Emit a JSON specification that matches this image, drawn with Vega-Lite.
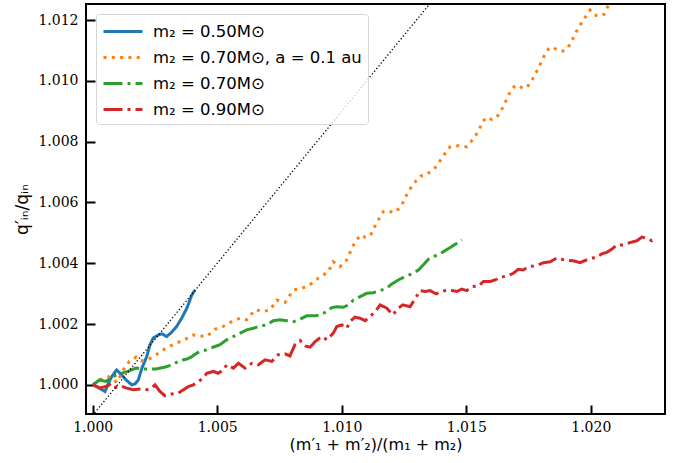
{
 "$schema": "https://vega.github.io/schema/vega-lite/v6.json",
 "width": 579, "height": 410,
 "autosize": {"type": "none"},
 "padding": {"left": 86, "top": 4, "right": 20, "bottom": 49},
 "background": "white",
 "config": {
  "view": {"stroke": "black", "strokeWidth": 2},
  "axis": {"domain": false, "grid": false, "tickColor": "black", "tickWidth": 2, "tickSize": -9, "labelFont": "DejaVu Serif", "labelFontSize": 14, "labelColor": "black", "titleFont": "DejaVu Sans", "titleFontSize": 16, "titleFontWeight": "normal", "titleColor": "black"}
 },
 "datasets": {
  "curves": [
   {"s":"A","x":1.00002,"y":1.0},{"s":"A","x":1.00025,"y":0.9999},{"s":"A","x":1.00049,"y":0.99978},{"s":"A","x":1.00073,"y":1.00023},{"s":"A","x":1.00096,"y":1.00049},{"s":"A","x":1.00116,"y":1.00033},{"s":"A","x":1.00138,"y":1.00013},{"s":"A","x":1.00157,"y":1.0},{"s":"A","x":1.0017,"y":1.00003},{"s":"A","x":1.00183,"y":1.00016},{"s":"A","x":1.00198,"y":1.00056},{"s":"A","x":1.00217,"y":1.00093},{"s":"A","x":1.0023,"y":1.00132},{"s":"A","x":1.00243,"y":1.00154},{"s":"A","x":1.00263,"y":1.00164},{"s":"A","x":1.00278,"y":1.00168},{"s":"A","x":1.00297,"y":1.00159},{"s":"A","x":1.00314,"y":1.00171},{"s":"A","x":1.00337,"y":1.00192},{"s":"A","x":1.00357,"y":1.00219},{"s":"A","x":1.00378,"y":1.00252},{"s":"A","x":1.00398,"y":1.00296},{"s":"A","x":1.00411,"y":1.00312},
   {"s":"B","x":1.00001,"y":1.0},{"s":"B","x":1.00027,"y":1.00016},{"s":"B","x":1.00064,"y":1.00027},{"s":"B","x":1.00098,"y":1.00008},{"s":"B","x":1.00118,"y":1.00043},{"s":"B","x":1.00147,"y":1.00077},{"s":"B","x":1.00174,"y":1.00091},{"s":"B","x":1.00194,"y":1.00079},{"s":"B","x":1.00221,"y":1.00082},{"s":"B","x":1.00254,"y":1.00099},{"s":"B","x":1.00294,"y":1.00121},{"s":"B","x":1.00335,"y":1.00137},{"s":"B","x":1.00368,"y":1.00148},{"s":"B","x":1.00402,"y":1.00164},{"s":"B","x":1.00428,"y":1.00161},{"s":"B","x":1.00458,"y":1.00159},{"s":"B","x":1.00491,"y":1.00183},{"s":"B","x":1.00524,"y":1.00192},{"s":"B","x":1.00565,"y":1.00211},{"s":"B","x":1.00592,"y":1.00219},{"s":"B","x":1.00618,"y":1.00214},{"s":"B","x":1.00652,"y":1.00247},{"s":"B","x":1.00685,"y":1.00241},{"s":"B","x":1.00712,"y":1.00247},{"s":"B","x":1.00739,"y":1.00279},{"s":"B","x":1.00772,"y":1.00271},{"s":"B","x":1.00806,"y":1.00312},{"s":"B","x":1.00839,"y":1.00318},{"s":"B","x":1.00859,"y":1.00323},{"s":"B","x":1.0088,"y":1.00334},{"s":"B","x":1.00906,"y":1.00351},{"s":"B","x":1.00946,"y":1.00372},{"s":"B","x":1.00966,"y":1.00405},{"s":"B","x":1.00993,"y":1.00389},{"s":"B","x":1.0102,"y":1.00411},{"s":"B","x":1.01047,"y":1.0046},{"s":"B","x":1.0106,"y":1.00477},{"s":"B","x":1.01076,"y":1.00493},{"s":"B","x":1.01094,"y":1.00486},{"s":"B","x":1.01114,"y":1.0049},{"s":"B","x":1.01127,"y":1.00512},{"s":"B","x":1.01141,"y":1.00534},{"s":"B","x":1.01157,"y":1.00557},{"s":"B","x":1.01167,"y":1.0057},{"s":"B","x":1.01187,"y":1.00573},{"s":"B","x":1.01207,"y":1.00566},{"s":"B","x":1.01227,"y":1.00578},{"s":"B","x":1.01241,"y":1.00592},{"s":"B","x":1.01254,"y":1.00614},{"s":"B","x":1.0127,"y":1.00639},{"s":"B","x":1.01288,"y":1.0066},{"s":"B","x":1.01301,"y":1.00674},{"s":"B","x":1.01317,"y":1.00687},{"s":"B","x":1.01335,"y":1.00689},{"s":"B","x":1.01352,"y":1.00699},{"s":"B","x":1.01371,"y":1.0071},{"s":"B","x":1.01388,"y":1.00729},{"s":"B","x":1.01406,"y":1.00751},{"s":"B","x":1.01422,"y":1.0077},{"s":"B","x":1.01435,"y":1.00783},{"s":"B","x":1.01459,"y":1.00787},{"s":"B","x":1.01482,"y":1.00786},{"s":"B","x":1.01502,"y":1.00783},{"s":"B","x":1.01519,"y":1.008},{"s":"B","x":1.01538,"y":1.00821},{"s":"B","x":1.01553,"y":1.00841},{"s":"B","x":1.01565,"y":1.00866},{"s":"B","x":1.01582,"y":1.0088},{"s":"B","x":1.01602,"y":1.00873},{"s":"B","x":1.01618,"y":1.00877},{"s":"B","x":1.01636,"y":1.00895},{"s":"B","x":1.01649,"y":1.00917},{"s":"B","x":1.01663,"y":1.0094},{"s":"B","x":1.01676,"y":1.00964},{"s":"B","x":1.01692,"y":1.00981},{"s":"B","x":1.01709,"y":1.00986},{"s":"B","x":1.01727,"y":1.00975},{"s":"B","x":1.01744,"y":1.0098},{"s":"B","x":1.01759,"y":1.00995},{"s":"B","x":1.01773,"y":1.01017},{"s":"B","x":1.01788,"y":1.01039},{"s":"B","x":1.01802,"y":1.01063},{"s":"B","x":1.01815,"y":1.01087},{"s":"B","x":1.0183,"y":1.01105},{"s":"B","x":1.01846,"y":1.01112},{"s":"B","x":1.01866,"y":1.01101},{"s":"B","x":1.01886,"y":1.01098},{"s":"B","x":1.01906,"y":1.01106},{"s":"B","x":1.01921,"y":1.01128},{"s":"B","x":1.01936,"y":1.01151},{"s":"B","x":1.01949,"y":1.01174},{"s":"B","x":1.01966,"y":1.01194},{"s":"B","x":1.01982,"y":1.01215},{"s":"B","x":1.01997,"y":1.01233},{"s":"B","x":1.02013,"y":1.01217},{"s":"B","x":1.02033,"y":1.01213},{"s":"B","x":1.02055,"y":1.0122},{"s":"B","x":1.02068,"y":1.01244},{"s":"B","x":1.02085,"y":1.01266},
   {"s":"C","x":1.00001,"y":1.0},{"s":"C","x":1.00027,"y":1.00016},{"s":"C","x":1.00053,"y":1.00011},{"s":"C","x":1.0008,"y":1.00027},{"s":"C","x":1.00107,"y":1.00036},{"s":"C","x":1.00141,"y":1.00044},{"s":"C","x":1.00174,"y":1.00055},{"s":"C","x":1.00201,"y":1.00052},{"s":"C","x":1.00227,"y":1.00052},{"s":"C","x":1.00254,"y":1.00052},{"s":"C","x":1.00288,"y":1.00058},{"s":"C","x":1.00321,"y":1.00066},{"s":"C","x":1.00348,"y":1.0008},{"s":"C","x":1.00375,"y":1.00084},{"s":"C","x":1.00395,"y":1.00091},{"s":"C","x":1.00408,"y":1.00099},{"s":"C","x":1.00428,"y":1.00109},{"s":"C","x":1.00448,"y":1.00113},{"s":"C","x":1.00491,"y":1.00126},{"s":"C","x":1.00511,"y":1.00132},{"s":"C","x":1.00538,"y":1.00148},{"s":"C","x":1.00565,"y":1.00159},{"s":"C","x":1.00592,"y":1.0017},{"s":"C","x":1.00618,"y":1.00181},{"s":"C","x":1.00645,"y":1.00186},{"s":"C","x":1.00672,"y":1.00194},{"s":"C","x":1.00699,"y":1.00197},{"s":"C","x":1.00725,"y":1.00211},{"s":"C","x":1.00752,"y":1.00214},{"s":"C","x":1.00779,"y":1.00211},{"s":"C","x":1.00806,"y":1.00208},{"s":"C","x":1.00833,"y":1.00216},{"s":"C","x":1.00859,"y":1.00227},{"s":"C","x":1.00893,"y":1.00227},{"s":"C","x":1.00913,"y":1.0023},{"s":"C","x":1.0094,"y":1.00241},{"s":"C","x":1.0096,"y":1.00254},{"s":"C","x":1.0098,"y":1.00257},{"s":"C","x":1.01006,"y":1.00255},{"s":"C","x":1.01027,"y":1.00263},{"s":"C","x":1.01047,"y":1.00279},{"s":"C","x":1.01074,"y":1.0029},{"s":"C","x":1.011,"y":1.00301},{"s":"C","x":1.01127,"y":1.00303},{"s":"C","x":1.01154,"y":1.0031},{"s":"C","x":1.01181,"y":1.00318},{"s":"C","x":1.01201,"y":1.00332},{"s":"C","x":1.01227,"y":1.00345},{"s":"C","x":1.01254,"y":1.00356},{"s":"C","x":1.01281,"y":1.00365},{"s":"C","x":1.01308,"y":1.00378},{"s":"C","x":1.01328,"y":1.00395},{"s":"C","x":1.01348,"y":1.00413},{"s":"C","x":1.01375,"y":1.00424},{"s":"C","x":1.01402,"y":1.00435},{"s":"C","x":1.01424,"y":1.00446},{"s":"C","x":1.01442,"y":1.00455},{"s":"C","x":1.01459,"y":1.00464},{"s":"C","x":1.01482,"y":1.00477},
   {"s":"D","x":1.00002,"y":1.0},{"s":"D","x":1.00029,"y":0.99989},{"s":"D","x":1.00049,"y":0.99994},{"s":"D","x":1.00069,"y":1.0},{"s":"D","x":1.00083,"y":0.99989},{"s":"D","x":1.0011,"y":0.99997},{"s":"D","x":1.00137,"y":0.99989},{"s":"D","x":1.00163,"y":0.99984},{"s":"D","x":1.0019,"y":0.99986},{"s":"D","x":1.00217,"y":0.99984},{"s":"D","x":1.00237,"y":0.99989},{"s":"D","x":1.0025,"y":1.0},{"s":"D","x":1.0027,"y":0.99978},{"s":"D","x":1.0029,"y":0.99964},{"s":"D","x":1.00317,"y":0.9997},{"s":"D","x":1.00344,"y":0.99973},{"s":"D","x":1.00364,"y":0.99984},{"s":"D","x":1.00384,"y":0.99994},{"s":"D","x":1.00404,"y":1.0},{"s":"D","x":1.00424,"y":1.00011},{"s":"D","x":1.00444,"y":1.00022},{"s":"D","x":1.00458,"y":1.00038},{"s":"D","x":1.00484,"y":1.00044},{"s":"D","x":1.00504,"y":1.00038},{"s":"D","x":1.00525,"y":1.00049},{"s":"D","x":1.00538,"y":1.00066},{"s":"D","x":1.00565,"y":1.00055},{"s":"D","x":1.00585,"y":1.00071},{"s":"D","x":1.00612,"y":1.00055},{"s":"D","x":1.00639,"y":1.00071},{"s":"D","x":1.00665,"y":1.00066},{"s":"D","x":1.00692,"y":1.00082},{"s":"D","x":1.00719,"y":1.00077},{"s":"D","x":1.00745,"y":1.00099},{"s":"D","x":1.00772,"y":1.00102},{"s":"D","x":1.00792,"y":1.00095},{"s":"D","x":1.00812,"y":1.00132},{"s":"D","x":1.00833,"y":1.00146},{"s":"D","x":1.00853,"y":1.00128},{"s":"D","x":1.00873,"y":1.00124},{"s":"D","x":1.00893,"y":1.00142},{"s":"D","x":1.0092,"y":1.00159},{"s":"D","x":1.0094,"y":1.00148},{"s":"D","x":1.00966,"y":1.0017},{"s":"D","x":1.0098,"y":1.00192},{"s":"D","x":1.01,"y":1.00197},{"s":"D","x":1.0102,"y":1.00186},{"s":"D","x":1.01033,"y":1.00208},{"s":"D","x":1.01053,"y":1.00223},{"s":"D","x":1.01073,"y":1.00219},{"s":"D","x":1.01094,"y":1.00211},{"s":"D","x":1.01114,"y":1.00225},{"s":"D","x":1.01134,"y":1.00241},{"s":"D","x":1.01154,"y":1.00263},{"s":"D","x":1.01181,"y":1.00252},{"s":"D","x":1.01205,"y":1.0023},{"s":"D","x":1.01227,"y":1.00252},{"s":"D","x":1.01245,"y":1.00263},{"s":"D","x":1.01274,"y":1.00257},{"s":"D","x":1.01294,"y":1.00282},{"s":"D","x":1.01314,"y":1.0031},{"s":"D","x":1.01335,"y":1.00307},{"s":"D","x":1.01355,"y":1.0031},{"s":"D","x":1.01379,"y":1.00299},{"s":"D","x":1.01402,"y":1.00307},{"s":"D","x":1.01422,"y":1.00312},{"s":"D","x":1.01442,"y":1.0031},{"s":"D","x":1.01462,"y":1.00307},{"s":"D","x":1.01482,"y":1.00315},{"s":"D","x":1.01502,"y":1.0031},{"s":"D","x":1.01522,"y":1.00323},{"s":"D","x":1.01549,"y":1.00325},{"s":"D","x":1.01569,"y":1.0034},{"s":"D","x":1.01596,"y":1.0034},{"s":"D","x":1.01616,"y":1.00345},{"s":"D","x":1.01636,"y":1.00354},{"s":"D","x":1.01663,"y":1.00358},{"s":"D","x":1.01689,"y":1.00367},{"s":"D","x":1.01709,"y":1.0038},{"s":"D","x":1.01729,"y":1.00378},{"s":"D","x":1.01749,"y":1.00389},{"s":"D","x":1.01769,"y":1.00391},{"s":"D","x":1.0179,"y":1.00395},{"s":"D","x":1.0181,"y":1.00402},{"s":"D","x":1.01837,"y":1.00405},{"s":"D","x":1.01863,"y":1.00417},{"s":"D","x":1.01883,"y":1.00413},{"s":"D","x":1.0191,"y":1.00409},{"s":"D","x":1.0193,"y":1.00408},{"s":"D","x":1.01957,"y":1.00402},{"s":"D","x":1.01977,"y":1.00409},{"s":"D","x":1.02004,"y":1.00417},{"s":"D","x":1.02024,"y":1.00419},{"s":"D","x":1.02044,"y":1.00431},{"s":"D","x":1.02064,"y":1.00436},{"s":"D","x":1.02084,"y":1.00446},{"s":"D","x":1.02104,"y":1.0046},{"s":"D","x":1.02131,"y":1.0046},{"s":"D","x":1.02157,"y":1.00468},{"s":"D","x":1.02185,"y":1.00474},{"s":"D","x":1.02205,"y":1.00486},{"s":"D","x":1.02225,"y":1.00482},{"s":"D","x":1.02245,"y":1.00474},{"s":"D","x":1.02265,"y":1.00482}
  ],
  "ref": [{"x": 0.9999, "y": 0.9989}, {"x": 1.0137, "y": 1.0127}]
 },
 "layer": [
  {
   "data": {"name": "curves"},
   "transform": [{"lookup": "s", "from": {"data": {"values": [
     {"s": "A", "label": "m₂ = 0.50M⊙"},
     {"s": "B", "label": "m₂ = 0.70M⊙, a = 0.1 au"},
     {"s": "C", "label": "m₂ = 0.70M⊙"},
     {"s": "D", "label": "m₂ = 0.90M⊙"}]}, "key": "s", "fields": ["label"]}}],
   "mark": {"type": "line", "clip": true, "strokeWidth": 3},
   "encoding": {
    "x": {"field": "x", "type": "quantitative", "scale": {"domain": [0.99973, 1.02298], "zero": false, "nice": false},
          "axis": {"values": [1.0, 1.005, 1.01, 1.015, 1.02], "format": ".3f", "title": "(m′₁ + m′₂)/(m₁ + m₂)", "titlePadding": 2, "labelPadding": 15}},
    "y": {"field": "y", "type": "quantitative", "scale": {"domain": [0.99904, 1.01253], "zero": false, "nice": false},
          "axis": {"values": [1.0, 1.002, 1.004, 1.006, 1.008, 1.01, 1.012], "format": ".3f", "title": "q′ᵢₙ/qᵢₙ", "titlePadding": 6, "labelPadding": 17, "titleFontSize": 17}},
    "color": {"field": "label", "type": "nominal",
      "scale": {"domain": ["m₂ = 0.50M⊙", "m₂ = 0.70M⊙, a = 0.1 au", "m₂ = 0.70M⊙", "m₂ = 0.90M⊙"], "range": ["#1f77b4", "#ff7f0e", "#2ca02c", "#d62728"]},
      "legend": {"title": null, "orient": "none", "legendX": 10, "legendY": 10, "symbolType": "M-1,0H2.9", "symbolSize": 400, "symbolStrokeWidth": 3, "labelFont": "DejaVu Sans", "labelFontSize": 16.5, "labelColor": "black", "labelOffset": 28, "rowPadding": 6, "padding": 6, "fillColor": "rgba(255,255,255,0.8)", "strokeColor": "#d6d6d6", "cornerRadius": 3, "labelLimit": 400}},
    "strokeDash": {"field": "label", "type": "nominal",
      "scale": {"domain": ["m₂ = 0.50M⊙", "m₂ = 0.70M⊙, a = 0.1 au", "m₂ = 0.70M⊙", "m₂ = 0.90M⊙"], "range": [[1, 0], [3, 5.3], [19, 5, 3, 5], [19, 5, 3, 5]]},
      "legend": {"title": null, "orient": "none", "legendX": 10, "legendY": 10, "symbolType": "M-1,0H2.9", "symbolSize": 400, "symbolStrokeWidth": 3, "labelFont": "DejaVu Sans", "labelFontSize": 16.5, "labelColor": "black", "labelOffset": 28, "rowPadding": 6, "padding": 6, "fillColor": "rgba(255,255,255,0.8)", "strokeColor": "#d6d6d6", "cornerRadius": 3, "labelLimit": 400}}
   }
  },
  {
   "data": {"name": "ref"},
   "mark": {"type": "line", "clip": true, "color": "black", "strokeWidth": 1.3, "strokeDash": [1.3, 2.2]},
   "encoding": {"x": {"field": "x", "type": "quantitative"}, "y": {"field": "y", "type": "quantitative"}}
  }
 ]
}
